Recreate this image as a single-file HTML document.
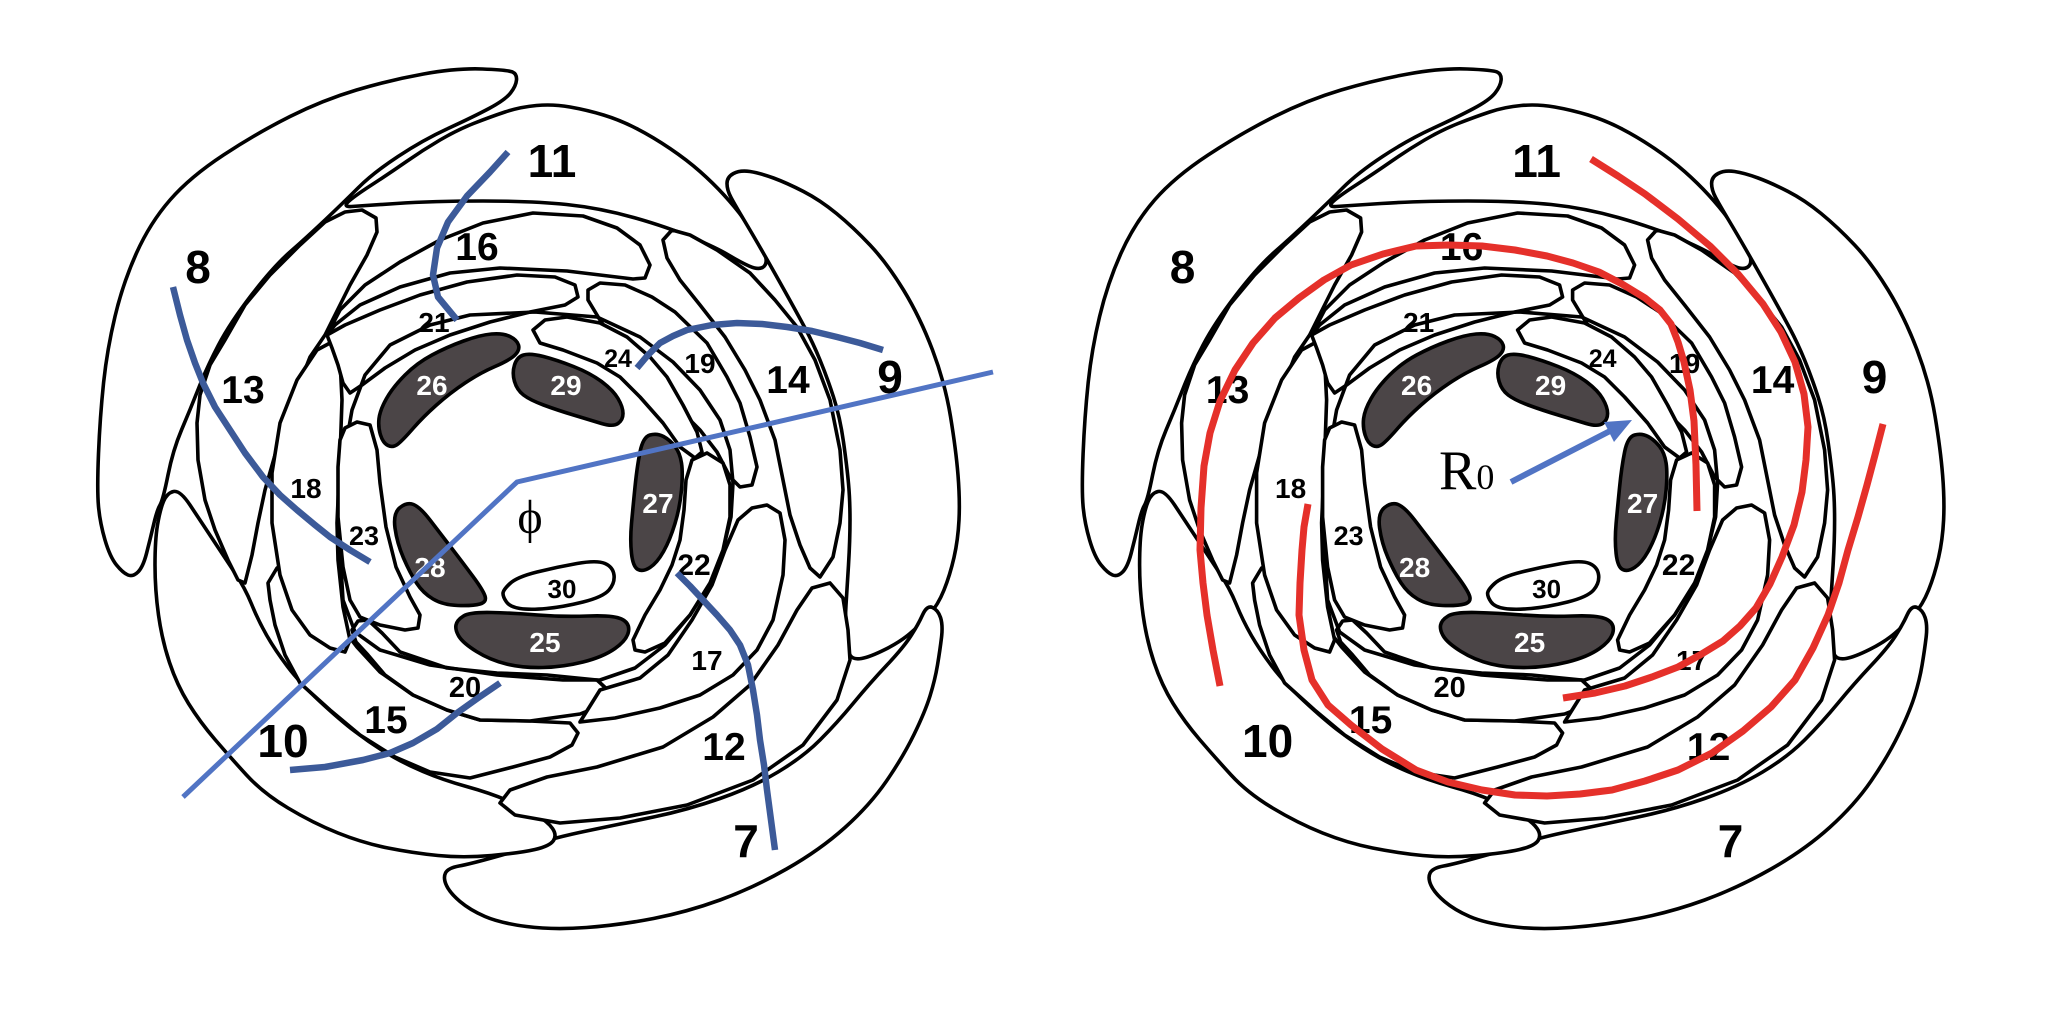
<!DOCTYPE html>
<html>
<head>
<meta charset="utf-8">
<style>
html,body{margin:0;padding:0;background:#fff;}
svg{display:block;}
</style>
</head>
<body>
<svg width="2048" height="1015" viewBox="0 0 2048 1015" xmlns="http://www.w3.org/2000/svg">
<rect width="2048" height="1015" fill="#fff"/>
<defs>
<g id="flower" stroke="#000" stroke-width="3.6" stroke-linejoin="round" fill="#fff">
  <!-- outer whorl -->
  <path d="M512.5,72 Q508,70 482.5,69 Q457,68 423.5,74 Q390,80 356.5,90 Q323,100 290,116.5 Q257,133 223.5,155 Q190,177 170,200 Q150,223 136.5,253 Q123,283 115,316.5 Q107,350 103.5,383.5 Q100,417 98.5,453.5 Q97,490 98.5,506.5 Q100,523 105,540 Q110,557 116.5,565 Q123,573 128,575 Q133,577 138,572 Q143,567 146.5,553.5 Q150,540 153.5,525 Q157,510 160,505 Q163,500 168,475 Q173,450 181.5,430 Q190,410 198.5,388.5 Q207,367 218.5,345 Q230,323 251.5,295 Q273,267 290,252 Q307,237 325,220 Q343,203 358,188 Q373,173 398,156.5 Q423,140 448,128.5 Q473,117 489,108.5 Q505,100 510.5,93 Q516,86 516.5,80 Q517,74 512.5,72 Z"/>
  <path d="M351.5,206.5 Q343,207 348,202 Q353,197 371.5,185 Q390,173 406.5,161.5 Q423,150 440,140 Q457,130 473.5,123.5 Q490,117 505,112 Q520,107 536.5,105.5 Q553,104 570,107 Q587,110 603.5,115 Q620,120 636.5,128.5 Q653,137 670,148.5 Q687,160 700,171.5 Q713,183 724,195 Q735,207 743.5,218.5 Q752,230 758.5,241 Q765,252 766,258.5 Q767,265 762.5,267.5 Q758,270 749,266 Q740,262 728.5,255 Q717,248 692,237.5 Q667,227 633.5,217.5 Q600,208 566.5,204.5 Q533,201 483,201 Q433,201 396.5,203.5 Q360,206 351.5,206.5 Z"/>
  <path d="M727,183.5 Q727,177 733.5,173.5 Q740,170 750,171.5 Q760,173 773.5,178 Q787,183 803.5,191.5 Q820,200 836.5,213.5 Q853,227 870,245 Q887,263 903.5,290 Q920,317 932.5,350 Q945,383 950.5,416.5 Q956,450 958,475 Q960,500 959,520 Q958,540 954,557.5 Q950,575 944,590 Q938,605 929,615 Q920,625 910,633.5 Q900,642 885,649.5 Q870,657 861.5,658.5 Q853,660 850,655 Q847,650 846,635 Q845,620 846,605 Q847,590 848.5,565 Q850,540 850,520 Q850,500 848.5,483.5 Q847,467 843.5,442 Q840,417 833.5,397 Q827,377 820,360 Q813,343 805,328 Q797,313 785,291.5 Q773,270 763,252.5 Q753,235 744,220 Q735,205 731,197.5 Q727,190 727,183.5 Z"/>
  <path d="M922.5,615 Q927,605 932.5,607.5 Q938,610 940.5,617.5 Q943,625 941.5,637.5 Q940,650 937.5,665 Q935,680 930,696 Q925,712 914,734.5 Q903,757 886.5,781 Q870,805 845,827.5 Q820,850 786.5,869 Q753,888 720,900 Q687,912 653.5,918.5 Q620,925 586.5,927.5 Q553,930 526.5,926.5 Q500,923 485,916.5 Q470,910 460,901.5 Q450,893 446.5,885.5 Q443,878 445.5,873 Q448,868 459,866 Q470,864 495,857 Q520,850 536.5,844 Q553,838 586.5,831 Q620,824 653.5,817 Q687,810 720,798.5 Q753,787 778,772 Q803,757 820,740 Q837,723 853.5,703 Q870,683 886.5,665.5 Q903,648 910.5,636.5 Q918,625 922.5,615 Z"/>
  <path d="M163.5,501.5 Q167,493 173.5,491.5 Q180,490 190,505 Q200,520 212.5,539 Q225,558 235,573 Q245,588 251.5,604 Q258,620 266.5,635 Q275,650 287.5,666.5 Q300,683 320,701.5 Q340,720 355,731.5 Q370,743 386.5,753 Q403,763 423,771.5 Q443,780 466.5,786.5 Q490,793 507.5,800.5 Q525,808 536.5,815 Q548,822 552.5,828.5 Q557,835 553.5,840.5 Q550,846 535,849.5 Q520,853 491.5,855.5 Q463,858 438,855.5 Q413,853 388,848 Q363,843 338,833 Q313,823 288,808 Q263,793 246.5,775 Q230,757 215,739.5 Q200,722 188.5,703.5 Q177,685 169.5,662.5 Q162,640 158.5,615 Q155,590 155,565 Q155,540 157.5,525 Q160,510 163.5,501.5 Z"/>
  <!-- whorl 2 -->
  <path d="M345,212 L362,210 376,218 377,232 367,255 350,285 335,315 325,335 310,357 297,390 285,420 275,455 265,490 258,523 252,555 245,583 238,580 228,560 215,530 205,500 198,460 197,423 200,395 210,365 225,340 245,305 270,275 300,245 325,222 Z"/>
  <path d="M327,335 L340,310 365,285 400,262 440,240 483,223 533,213 583,216 617,228 640,245 650,265 645,278 633,279 567,271 500,268 450,273 400,287 360,305 335,325 Z"/>
  <path d="M663,240 L672,230 690,235 717,250 750,273 775,300 797,327 815,360 830,400 840,450 843,490 840,523 833,557 820,577 810,568 800,545 790,515 783,480 775,440 760,400 745,370 725,337 700,305 680,280 667,258 Z"/>
  <path d="M500,803 L510,790 547,777 597,767 663,747 713,717 750,685 778,645 797,610 812,588 830,583 843,598 848,630 850,660 837,700 803,745 753,780 687,805 620,818 560,823 515,815 Z"/>
  <path d="M277,568 L290,575 300,588 318,605 340,625 357,647 380,672 413,695 447,710 480,720 530,721 570,723 578,733 572,745 550,757 513,767 470,778 430,772 395,757 360,735 330,710 300,683 285,655 275,625 270,600 268,583 Z"/>
  <!-- whorl 3 -->
  <path d="M317,350 L330,343 340,360 342,400 340,457 337,523 338,560 343,607 350,640 345,652 330,648 310,635 292,610 280,575 272,523 272,473 280,423 297,380 Z"/>
  <path d="M352,630 L358,621 368,620 382,633 400,652 447,668 497,673 547,675 597,680 610,692 603,705 580,714 530,721 480,720 447,710 413,695 385,675 368,655 356,642 Z"/>
  <path d="M767,505 L780,513 785,540 783,575 773,620 757,650 733,675 700,695 660,708 615,718 580,722 600,690 640,678 668,655 692,620 712,585 725,550 738,520 752,508 Z"/>
  <path d="M588,290 L600,283 625,285 652,297 675,312 707,343 727,377 740,403 750,437 757,467 752,485 740,487 730,477 717,452 700,430 683,413 660,395 640,375 620,350 600,320 588,300 Z"/>
  <path d="M327,335 L345,325 380,310 420,295 467,282 517,275 555,277 575,285 578,297 565,305 530,312 490,322 450,335 415,350 385,368 362,385 350,393 343,383 338,365 332,348 Z"/>
  <!-- ring -->
  <path fill="none" d="M535,312 L597,317 640,337 673,362 700,390 720,420 730,450 733,483 731,517 723,550 710,583 690,615 665,645 635,668 600,680 563,680 497,675 430,665 380,650 355,632 343,600 340,550 342,500 345,450 352,410 365,375 390,345 430,325 470,315 Z"/>
  <!-- whorl 4 -->
  <path d="M345,428 L357,422 370,425 377,450 380,483 386,527 396,567 410,597 420,615 418,628 405,630 380,625 360,617 350,600 343,567 338,517 338,467 340,440 Z"/>
  <path d="M692,460 L707,453 723,463 730,485 730,517 723,550 710,583 690,615 665,643 645,652 635,650 633,640 645,615 660,590 672,565 680,540 684,510 686,480 Z"/>
  <path d="M533,330 L545,320 567,317 600,323 627,337 650,357 667,377 683,405 697,432 702,452 695,458 680,447 663,423 640,397 620,377 597,363 563,350 540,343 Z"/>
  <!-- dark inner petals -->
  <g fill="#4b4547">
    <path d="M379,418.5 Q380,410 386.5,398.5 Q393,387 405,375 Q417,363 432,355 Q447,347 463.5,341 Q480,335 491.5,334 Q503,333 510,336.5 Q517,340 518.5,345 Q520,350 515,355 Q510,360 495,366.5 Q480,373 465,383 Q450,393 436.5,405 Q423,417 413,428.5 Q403,440 398,444 Q393,448 388,445.5 Q383,443 380.5,435 Q378,427 379,418.5 Z"/>
    <path d="M514.5,365 Q517,357 523.5,355 Q530,353 543.5,356.5 Q557,360 573.5,366.5 Q590,373 601.5,381.5 Q613,390 618,398.5 Q623,407 623,413.5 Q623,420 618,423.5 Q613,427 601.5,423.5 Q590,420 573.5,415 Q557,410 543.5,405 Q530,400 523.5,395 Q517,390 514.5,381.5 Q512,373 514.5,365 Z"/>
    <path d="M640,452 Q643,437 650,435 Q657,433 663.5,436.5 Q670,440 675,446.5 Q680,453 681.5,463 Q683,473 681.5,490 Q680,507 675,523.5 Q670,540 663.5,551.5 Q657,563 650,567.5 Q643,572 638,569.5 Q633,567 631.5,553.5 Q630,540 631.5,523.5 Q633,507 635,487 Q637,467 640,452 Z"/>
    <path d="M456,625 Q457,620 463.5,616 Q470,612 491.5,612.5 Q513,613 538,615 Q563,617 588,616 Q613,615 621.5,619 Q630,623 628.5,631.5 Q627,640 615,648.5 Q603,657 583,662 Q563,667 543,667.5 Q523,668 506.5,664 Q490,660 476.5,651.5 Q463,643 459,636.5 Q455,630 456,625 Z"/>
    <path d="M395,528 Q393,513 400,507.5 Q407,502 413.5,504.5 Q420,507 430,520 Q440,533 451.5,548 Q463,563 473,576.5 Q483,590 485,596 Q487,602 480,604 Q473,606 458,605.5 Q443,605 433,599 Q423,593 416.5,583 Q410,573 403.5,558 Q397,543 395,528 Z"/>
  </g>
  <path d="M503,593.5 Q503,590 510,583.5 Q517,577 537,572 Q557,567 577,563.5 Q597,560 605,563.5 Q613,567 614,575 Q615,583 609,590 Q603,597 583,602 Q563,607 546.5,608.5 Q530,610 520,608.5 Q510,607 506.5,602 Q503,597 503,593.5 Z"/>
</g>
</defs>

<use href="#flower"/>
<use href="#flower" transform="translate(984.6,0)"/>

<!-- left labels -->
<g font-family="'Liberation Sans', Arial, sans-serif" font-weight="bold" text-anchor="middle" fill="#000">
  <text x="552" y="177" font-size="46">11</text>
  <text x="198" y="283" font-size="46">8</text>
  <text x="890" y="393" font-size="46">9</text>
  <text x="746" y="857" font-size="46">7</text>
  <text x="283" y="757" font-size="46">10</text>
  <text x="243" y="403" font-size="39">13</text>
  <text x="477" y="260" font-size="39">16</text>
  <text x="788" y="393" font-size="39">14</text>
  <text x="724" y="760" font-size="39">12</text>
  <text x="386" y="733" font-size="39">15</text>
  <text x="434" y="332" font-size="28">21</text>
  <text x="700" y="373" font-size="28">19</text>
  <text x="618" y="367" font-size="25">24</text>
  <text x="306" y="498" font-size="28">18</text>
  <text x="364" y="545" font-size="27">23</text>
  <text x="694" y="575" font-size="30">22</text>
  <text x="707" y="670" font-size="28">17</text>
  <text x="465" y="697" font-size="29">20</text>
  <text x="562" y="598" font-size="26">30</text>
  <g fill="#fff" font-size="28">
    <text x="432" y="395">26</text>
    <text x="566" y="395">29</text>
    <text x="658" y="513">27</text>
    <text x="430" y="577">28</text>
    <text x="545" y="652">25</text>
  </g>
</g>

<!-- right labels -->
<g transform="translate(984.6,0)" font-family="'Liberation Sans', Arial, sans-serif" font-weight="bold" text-anchor="middle" fill="#000">
  <text x="552" y="177" font-size="46">11</text>
  <text x="198" y="283" font-size="46">8</text>
  <text x="890" y="393" font-size="46">9</text>
  <text x="746" y="857" font-size="46">7</text>
  <text x="283" y="757" font-size="46">10</text>
  <text x="243" y="403" font-size="39">13</text>
  <text x="477" y="260" font-size="39">16</text>
  <text x="788" y="393" font-size="39">14</text>
  <text x="724" y="760" font-size="39">12</text>
  <text x="386" y="733" font-size="39">15</text>
  <text x="434" y="332" font-size="28">21</text>
  <text x="700" y="373" font-size="28">19</text>
  <text x="618" y="367" font-size="25">24</text>
  <text x="306" y="498" font-size="28">18</text>
  <text x="364" y="545" font-size="27">23</text>
  <text x="694" y="575" font-size="30">22</text>
  <text x="707" y="670" font-size="28">17</text>
  <text x="465" y="697" font-size="29">20</text>
  <text x="562" y="598" font-size="26">30</text>
  <g fill="#fff" font-size="28">
    <text x="432" y="395">26</text>
    <text x="566" y="395">29</text>
    <text x="658" y="513">27</text>
    <text x="430" y="577">28</text>
    <text x="545" y="652">25</text>
  </g>
</g>

<!-- left: phi and blue lines -->
<text x="530" y="533" font-family="'Liberation Serif','DejaVu Serif',serif" font-size="48" text-anchor="middle" fill="#000">ϕ</text>
<polyline points="993,372 517,482 183,797" fill="none" stroke="#5174c4" stroke-width="5" stroke-linejoin="miter"/>
<g fill="none" stroke="#3c5a99" stroke-width="6.5" stroke-linejoin="round">
  <polyline points="508,152 490,172 467,196 448,222 437,248 433,275 438,297 457,320"/>
  <polyline points="173,287 180,315 187,340 195,363 203,383 215,407 230,430 245,453 263,477 280,495 297,510 315,525 330,537 350,550 370,562"/>
  <polyline points="637,368 648,355 660,343 673,336 687,330 712,325 737,323 762,324 787,327 812,331 837,337 860,343 883,350"/>
  <polyline points="677,573 690,586 703,600 717,615 730,630 740,645 748,665 753,690 757,715 760,740 764,765 767,790 771,820 775,850"/>
  <polyline points="290,770 325,767 363,760 390,753 413,743 437,729 457,713 478,698 500,683"/>
</g>

<!-- right: red spirals -->
<g fill="none" stroke="#e5302a" stroke-width="7" stroke-linejoin="round">
  <polyline points="1591,159 1618,176 1645,194 1678,219 1710,246 1738,274 1763,304 1781,332 1795,362 1804,394 1808,427 1806,460 1802,492 1794,525 1782,557 1770,584 1756,608 1740,626 1723,641 1700,655 1678,667 1652,677 1625,686 1595,693 1563,698"/>
  <polyline points="1697,511 1696,465 1694,421 1690,390 1684,362 1678,342 1671,324 1660,310 1645,298 1622,284 1599,272 1573,263 1547,256 1515,250 1482,246 1449,245 1416,246 1383,254 1351,265 1324,280 1299,298 1275,318 1253,343 1235,370 1220,401 1210,433 1204,466 1201,508 1200,550 1203,583 1207,615 1213,650 1220,686"/>
  <polyline points="1308,504 1304,527 1302,550 1300,583 1299,615 1304,650 1312,680 1328,705 1351,725 1382,749 1416,770 1448,782 1482,790 1515,795 1547,796 1580,794 1612,790 1645,781 1678,770 1712,753 1743,731 1771,707 1795,680 1813,648 1828,615 1839,583 1848,550 1858,517 1867,485 1875,455 1883,424"/>
</g>

<!-- right: R0 arrow -->
<line x1="1511" y1="482" x2="1610" y2="431" stroke="#5174c4" stroke-width="6"/>
<polygon points="1632,420 1614,442 1604,422" fill="#5174c4"/>
<text x="1439" y="489" font-family="'Liberation Serif','DejaVu Serif',serif" font-size="56" fill="#000">R<tspan font-size="36">0</tspan></text>
</svg>
</body>
</html>
